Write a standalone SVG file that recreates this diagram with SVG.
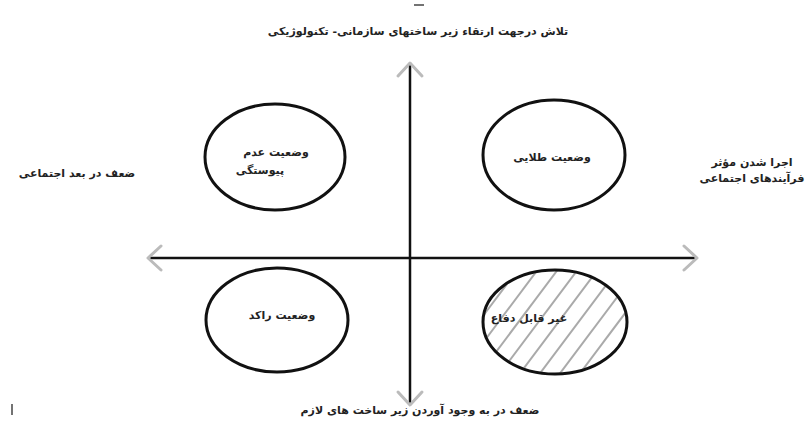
<svg xmlns="http://www.w3.org/2000/svg" width="809" height="447" viewBox="0 0 809 447">
<style>
.t{font-family:"DejaVu Sans",sans-serif;font-size:11px;font-weight:bold;fill:#222;direction:rtl;unicode-bidi:embed}
.el{fill:none;stroke:#111;stroke-width:3}
.ax{stroke:#111;stroke-width:2.5;fill:none}
.ah{stroke:#bbb;stroke-width:3;fill:none;stroke-linecap:round;stroke-linejoin:round}
.h{stroke:#aaa;stroke-width:2}
.m{stroke:#444;stroke-width:1.5}
</style>
<defs>
<clipPath id="c4"><ellipse cx="555" cy="322" rx="71" ry="51"/></clipPath>
</defs>
<rect width="809" height="447" fill="#fff"/>
<line class="m" x1="414" y1="5" x2="424" y2="5"/>
<line class="m" x1="12" y1="404" x2="12" y2="415"/>
<g id="connectors">
<line class="ax" x1="410" y1="64" x2="410" y2="404"/>
<line class="ax" x1="150" y1="258" x2="695" y2="258"/>
<polyline class="ah" points="398,76 410,63 422,76"/>
<polyline class="ah" points="398,392 410,405 422,392"/>
<polyline class="ah" points="161,246 148,258 161,270"/>
<polyline class="ah" points="684,246 697,258 684,270"/>
</g>
<g id="n1">
<ellipse class="el" cx="275" cy="157" rx="70" ry="53"/>
<text class="t" x="276" y="156" text-anchor="middle">وضعیت عدم</text>
<text class="t" x="260" y="174" text-anchor="middle">پیوستگی</text>
</g>
<g id="n2">
<ellipse class="el" cx="554" cy="155" rx="71" ry="55"/>
<text class="t" x="552" y="161" text-anchor="middle">وضعیت طلایی</text>
</g>
<g id="n3">
<ellipse class="el" cx="277" cy="320" rx="71" ry="52"/>
<text class="t" x="282" y="319" text-anchor="middle">وضعیت راکد</text>
</g>
<g id="n4">
<g clip-path="url(#c4)">
<line class="h" x1="460" y1="400" x2="580" y2="240"/>
<line class="h" x1="480" y1="400" x2="600" y2="240"/>
<line class="h" x1="500" y1="400" x2="620" y2="240"/>
<line class="h" x1="520" y1="400" x2="640" y2="240"/>
<line class="h" x1="540" y1="400" x2="660" y2="240"/>
<line class="h" x1="560" y1="400" x2="680" y2="240"/>
<line class="h" x1="440" y1="400" x2="560" y2="240"/>
<line class="h" x1="420" y1="400" x2="540" y2="240"/>
<line class="h" x1="400" y1="400" x2="520" y2="240"/>
<line class="h" x1="380" y1="400" x2="500" y2="240"/>
</g>
<ellipse class="el" cx="555" cy="322" rx="72" ry="52"/>
<text class="t" x="529" y="322" text-anchor="middle">غیر قابل دفاع</text>
</g>
<g id="labels">
<text class="t" x="418" y="35" text-anchor="middle">تلاش درجهت ارتقاء زیر ساختهای سازمانی- تکنولوژیکی</text>
<text class="t" x="77" y="177" text-anchor="middle">ضعف در بعد اجتماعی</text>
<text class="t" x="752" y="166" text-anchor="middle">اجرا شدن مؤثر</text>
<text class="t" x="752" y="182" text-anchor="middle">فرآیندهای اجتماعی</text>
<text class="t" x="420" y="414" text-anchor="middle">ضعف در به وجود آوردن زیر ساخت های لازم</text>
</g>
</svg>
